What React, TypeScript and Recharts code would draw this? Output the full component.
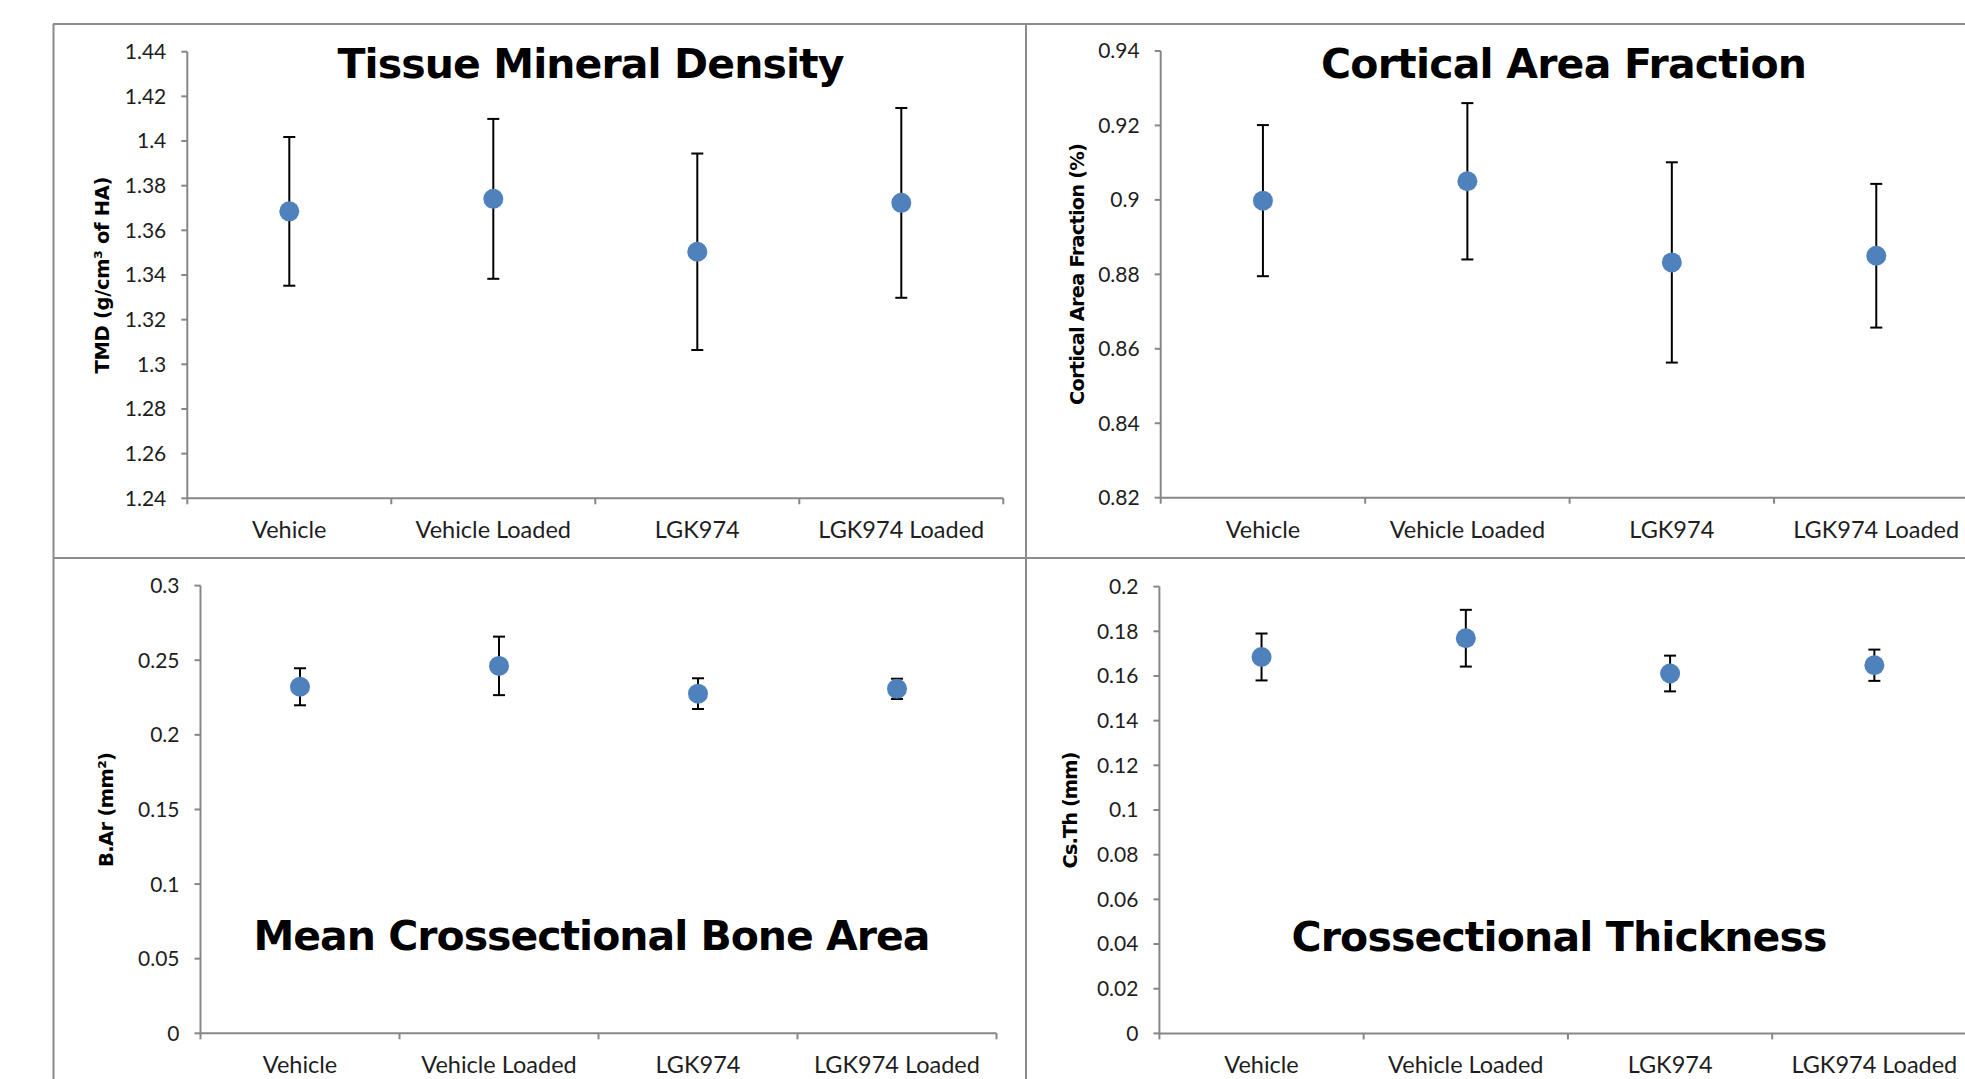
import React from 'react';
import { ComposedChart, Scatter, XAxis, YAxis, ErrorBar } from 'recharts';

const groups = ['Vehicle', 'Vehicle Loaded', 'LGK974', 'LGK974 Loaded'];

// Tissue mineral density (g/cm3 of HA)
const tmdMean = [1.3685, 1.3741, 1.3504, 1.3723];
const tmdSd = [0.0333, 0.0358, 0.044, 0.0425];
const tmdTicks = [1.24, 1.26, 1.28, 1.3, 1.32, 1.34, 1.36, 1.38, 1.4, 1.42, 1.44];

// Cortical area fraction
const cafMean = [0.8998, 0.905, 0.8832, 0.885];
const cafSd = [0.0203, 0.021, 0.0269, 0.0193];
const cafTicks = [0.82, 0.84, 0.86, 0.88, 0.9, 0.92, 0.94];

// Mean crossectional bone area (mm2)
const barMean = [0.2322, 0.2462, 0.2276, 0.2308];
const barSd = [0.0124, 0.0196, 0.0103, 0.0068];
const barTicks = [0, 0.05, 0.1, 0.15, 0.2, 0.25, 0.3];

// Crossectional thickness (mm)
const csthMean = [0.1685, 0.1769, 0.1611, 0.1648];
const csthSd = [0.0105, 0.0127, 0.008, 0.007];
const csthTicks = [0, 0.02, 0.04, 0.06, 0.08, 0.1, 0.12, 0.14, 0.16, 0.18, 0.2];

const AXIS = '#878787';
const FRAME = '#8c8c8c';
const TEXT = '#1e1e1e';
const BLUE = '#4F81BD';
const TICK_FONT = 'Lato, "Open Sans", sans-serif';
const BOLD_FONT = '"DejaVu Sans", Verdana, sans-serif';

const Y_W = 70;
const X_H = 40;

interface Box { left: number; top: number; width: number; height: number }
interface Plot { left: number; top: number; right: number; bottom: number }

const CategoryTick = (props: any) => {
  const { x, y, payload, index, band } = props;
  const half = band / 2;
  return (
    <g>
      <line x1={x - half} y1={y} x2={x - half} y2={y + 6} stroke={AXIS} strokeWidth={2} />
      {index === groups.length - 1 && (
        <line x1={x + half} y1={y} x2={x + half} y2={y + 6} stroke={AXIS} strokeWidth={2} />
      )}
      <text x={x} y={y + 40} textAnchor="middle" fill={TEXT} fontSize={23.5} fontFamily={TICK_FONT}>
        {payload.value}
      </text>
    </g>
  );
};

const Dot = (p: any) => <circle cx={p.cx} cy={p.cy} r={10} fill={BLUE} />;

interface PanelProps {
  box: Box;
  plot: Plot;
  mean: number[];
  sd: number[];
  ticks: number[];
}

const Panel = ({ box, plot, mean, sd, ticks }: PanelProps) => {
  const data = groups.map((name, i) => ({ name, mean: mean[i], sd: sd[i] }));
  const margin = {
    top: plot.top - box.top,
    left: plot.left - box.left - Y_W,
    right: box.left + box.width - plot.right,
    bottom: box.top + box.height - plot.bottom - X_H,
  };
  const band = (plot.right - plot.left) / groups.length;
  return (
    <div style={{ position: 'absolute', left: box.left, top: box.top }}>
      <ComposedChart width={box.width} height={box.height} margin={margin} data={data}>
        <XAxis
          dataKey="name"
          type="category"
          scale="band"
          interval={0}
          height={X_H}
          axisLine={{ stroke: AXIS, strokeWidth: 2 }}
          tickLine={false}
          tickSize={0}
          tickMargin={0}
          tick={(p: any) => <CategoryTick {...p} band={band} />}
        />
        <YAxis
          type="number"
          domain={[ticks[0], ticks[ticks.length - 1]]}
          ticks={ticks}
          interval={0}
          width={Y_W}
          axisLine={{ stroke: AXIS, strokeWidth: 2 }}
          tickLine={{ stroke: AXIS, strokeWidth: 2 }}
          tickSize={6}
          tickMargin={15}
          tick={{ fill: TEXT, fontSize: 21, fontFamily: TICK_FONT }}
        />
        <Scatter dataKey="mean" isAnimationActive={false} shape={Dot}>
          <ErrorBar dataKey="sd" direction="y" width={6} stroke="#000" strokeWidth={2} />
        </Scatter>
      </ComposedChart>
    </div>
  );
};

const titleStyle = { fontFamily: BOLD_FONT, fontWeight: 700, fontSize: 41, fill: '#000' };
const yLabelStyle = { fontFamily: BOLD_FONT, fontWeight: 700, fontSize: 19.5, fill: '#000' };

const YLabel = ({ x, y, len, text }: { x: number; y: number; len: number; text: string }) => (
  <text
    x={x}
    y={y}
    transform={`rotate(-90 ${x} ${y})`}
    textAnchor="middle"
    dominantBaseline="central"
    textLength={len}
    lengthAdjust="spacing"
    style={yLabelStyle}
  >
    {text}
  </text>
);

const Title = ({ x, y, len, text }: { x: number; y: number; len: number; text: string }) => (
  <text x={x} y={y} textAnchor="middle" textLength={len} lengthAdjust="spacing" style={titleStyle}>
    {text}
  </text>
);

export default function App() {
  return (
    <div
      style={{
        position: 'fixed',
        left: 0,
        top: 0,
        width: 1965,
        height: 1079,
        overflow: 'hidden',
        background: '#fff',
      }}
    >
      <svg width={1965} height={1079} style={{ position: 'absolute', left: 0, top: 0 }}>
        <line x1={53} y1={24} x2={1965} y2={24} stroke={FRAME} strokeWidth={2} />
        <line x1={53.5} y1={24} x2={53.5} y2={1079} stroke={FRAME} strokeWidth={2} />
        <line x1={1026} y1={24} x2={1026} y2={1079} stroke={FRAME} strokeWidth={2} />
        <line x1={53} y1={558} x2={1965} y2={558} stroke={FRAME} strokeWidth={2} />

        <Title x={591} y={78} len={507} text="Tissue Mineral Density" />
        <Title x={1564} y={78} len={486} text="Cortical Area Fraction" />
        <Title x={592} y={950} len={677} text="Mean Crossectional Bone Area" />
        <Title x={1559.5} y={951} len={536} text="Crossectional Thickness" />

        <YLabel x={102} y={275} len={197} text="TMD (g/cm³ of HA)" />
        <YLabel x={1077} y={274} len={262} text="Cortical Area Fraction (%)" />
        <YLabel x={106} y={809.5} len={115} text="B.Ar (mm²)" />
        <YLabel x={1070} y={810} len={117} text="Cs.Th (mm)" />
      </svg>

      <Panel
        box={{ left: 55, top: 25, width: 970, height: 532 }}
        plot={{ left: 187.3, top: 51.7, right: 1003.3, bottom: 498.3 }}
        mean={tmdMean}
        sd={tmdSd}
        ticks={tmdTicks}
      />
      <Panel
        box={{ left: 1027, top: 25, width: 970, height: 532 }}
        plot={{ left: 1160.7, top: 51, right: 1978.5, bottom: 497.7 }}
        mean={cafMean}
        sd={cafSd}
        ticks={cafTicks}
      />
      <Panel
        box={{ left: 55, top: 559, width: 970, height: 520 }}
        plot={{ left: 200.5, top: 585.6, right: 996.5, bottom: 1033.3 }}
        mean={barMean}
        sd={barSd}
        ticks={barTicks}
      />
      <Panel
        box={{ left: 1027, top: 559, width: 970, height: 520 }}
        plot={{ left: 1159.4, top: 586.6, right: 1976.5, bottom: 1033.4 }}
        mean={csthMean}
        sd={csthSd}
        ticks={csthTicks}
      />
    </div>
  );
}
